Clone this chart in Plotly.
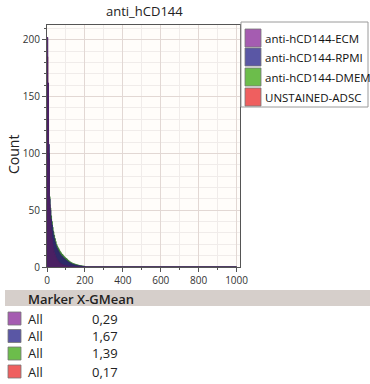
import plotly.graph_objects as go

# ---------------- data ----------------
bin_x = [0, 4, 8, 12, 16, 20, 24, 28, 32, 36, 40, 44, 48, 52, 56, 60, 64, 68, 72, 76,
         80, 84, 88, 92, 96, 100, 104, 108, 112, 116, 120, 124, 128, 132, 136, 140, 144, 148, 152, 156,
         160, 164, 168, 172, 176, 180, 184, 188, 192, 196]
bin_end = 200
axis_end = 1000

ecm = [202, 162, 95, 55, 42, 32, 25, 20, 16, 13, 11, 9, 7.5, 6.3, 5.3, 4.5, 3.8, 3.2, 2.7, 2.3,
       2, 1.7, 1.5, 1.3, 1.1, 1, 0.9, 0.8, 0.7, 0.6, 0.5, 0.5, 0.4, 0.4, 0.3, 0.3, 0.3, 0.2, 0.2, 0.2,
       0.2, 0.1, 0.1, 0.1, 0.1, 0.1, 0.1, 0.1, 0, 0]
rpmi = [150, 148, 108, 60, 50, 42, 37, 32, 28, 25, 22, 19.5, 17.5, 16, 14.5, 13.5, 12, 11, 10, 9.5,
        9, 8, 7.4, 6.8, 6.3, 5.8, 5.2, 4.7, 4.2, 3.8, 3.4, 3, 2.7, 2.5, 2.2, 2, 1.8, 1.6, 1.5, 1.3,
        1.2, 1.1, 1, 0.9, 0.8, 0.7, 0.6, 0.5, 0.5, 0.4]
dmem = [110, 125, 100, 62, 52, 45, 40, 35, 31, 28, 25, 22.5, 20, 18.5, 17, 16, 14.5, 13.5, 12.5, 11.5,
        11, 10, 9.2, 8.5, 8, 7.5, 6.8, 6.2, 5.6, 5, 4.5, 4.1, 3.7, 3.4, 3.1, 2.8, 2.6, 2.4, 2.2, 2,
        1.8, 1.6, 1.4, 1.3, 1.2, 1, 0.9, 0.8, 0.7, 0.6]
unstained = [185, 130, 72, 40, 26, 16, 10, 6, 4, 3, 2, 1.5, 1.2, 1, 0.8, 0.6, 0.5, 0.4, 0.3, 0.3,
             0.2, 0.2, 0.2, 0.1, 0.1, 0.1, 0.1, 0.1, 0, 0, 0, 0, 0, 0, 0, 0, 0, 0, 0, 0,
             0, 0, 0, 0, 0, 0, 0, 0, 0, 0]

series_names = ["anti-hCD144-ECM", "anti-hCD144-RPMI", "anti-hCD144-DMEM", "UNSTAINED-ADSC"]
series_counts = [ecm, rpmi, dmem, unstained]
legend_colors = ["#a55cb1", "#5a57a5", "#6cbd4b", "#ef5f5f"]
hist_colors = ["#4a2063", "#2e2a68", "#3a7e33", "#7a2f3a"]
gmean_labels = ["0,29", "1,67", "1,39", "0,17"]
gate_labels = ["All", "All", "All", "All"]

x_ticks = [0, 200, 400, 600, 800, 1000]
y_ticks = [0, 50, 100, 150, 200]

title_text = "anti_hCD144"
y_title = "Count"
table_header = "Marker X-GMean"

# ---------------- layout geometry (pixels) ----------------
W, H = 370, 384
L, R, T, B = 47, 240, 25, 267
FONT = "Open Sans, DejaVu Sans, sans-serif"


def xp(px):
    return (px - L) / (R - L)


def yp(py):
    return (B - py) / (B - T)


fig = go.Figure()

# draw order: unstained at the back, ECM in front
for idx in [3, 2, 1, 0]:
    xs = bin_x + [bin_end, axis_end]
    ys = series_counts[idx] + [0, 0]
    fig.add_trace(go.Scatter(
        x=xs, y=ys, mode="lines", line_shape="hv",
        line=dict(color=hist_colors[idx], width=1),
        fill="tozeroy", fillcolor=hist_colors[idx],
        name=series_names[idx], showlegend=False, hoverinfo="skip",
    ))

shapes = []
annotations = []

# title
annotations.append(dict(text=title_text, x=xp(144), y=yp(11), xref="paper", yref="paper",
                        showarrow=False, font=dict(family=FONT, size=13, color="#222"),
                        xanchor="center", yanchor="middle"))
# y title
annotations.append(dict(text=y_title, x=xp(13), y=yp(155), xref="paper", yref="paper",
                        showarrow=False, textangle=-90,
                        font=dict(family=FONT, size=14, color="#222"),
                        xanchor="center", yanchor="middle"))

# legend box
shapes.append(dict(type="rect", xref="paper", yref="paper",
                   x0=xp(241), x1=xp(368), y0=yp(107), y1=yp(22),
                   line=dict(color="#9a9a9a", width=1), fillcolor="white", layer="above"))
row_tops = [29, 48, 68, 88]
for i, name in enumerate(series_names):
    t0 = row_tops[i]
    shapes.append(dict(type="rect", xref="paper", yref="paper",
                       x0=xp(245), x1=xp(261), y0=yp(t0 + 18), y1=yp(t0),
                       line=dict(color="#777", width=0.8), fillcolor=legend_colors[i], layer="above"))
    annotations.append(dict(text=name, x=xp(262.5), y=yp(t0 + 9.5), xref="paper", yref="paper",
                            showarrow=False, xanchor="left", yanchor="middle",
                            font=dict(family=FONT, size=11.5, color="#111")))

# statistics table
shapes.append(dict(type="rect", xref="paper", yref="paper",
                   x0=xp(5), x1=xp(370), y0=yp(306), y1=yp(290),
                   line=dict(width=0), fillcolor="#d6cfcb", layer="above"))
annotations.append(dict(text=table_header, x=xp(26), y=yp(298.5), xref="paper", yref="paper",
                        showarrow=False, xanchor="left", yanchor="middle",
                        font=dict(family=FONT, size=13, color="#222", weight=600)))
table_tops = [312, 329.5, 347, 365]
for i in range(len(series_names)):
    t0 = table_tops[i]
    shapes.append(dict(type="rect", xref="paper", yref="paper",
                       x0=xp(8), x1=xp(21), y0=yp(t0 + 13), y1=yp(t0),
                       line=dict(color="#777", width=0.8), fillcolor=legend_colors[i], layer="above"))
    annotations.append(dict(text=gate_labels[i], x=xp(26), y=yp(t0 + 6.5), xref="paper", yref="paper",
                            showarrow=False, xanchor="left", yanchor="middle",
                            font=dict(family=FONT, size=13, color="#222")))
    annotations.append(dict(text=gmean_labels[i], x=xp(120), y=yp(t0 + 6.5), xref="paper", yref="paper",
                            showarrow=False, xanchor="right", yanchor="middle",
                            font=dict(family=FONT, size=13, color="#222")))

axis_common = dict(
    showline=True, linecolor="#555", linewidth=1, mirror=True,
    ticks="outside", ticklen=4, tickcolor="#555", tickwidth=1,
    gridcolor="#e2d8d4", gridwidth=1, zeroline=False,
    tickfont=dict(family=FONT, size=10, color="#333"),
)

fig.update_layout(
    width=W, height=H,
    margin=dict(l=L, r=W - R, t=T, b=H - B, pad=0),
    paper_bgcolor="white", plot_bgcolor="#fffdfa",
    showlegend=False,
    shapes=shapes, annotations=annotations,
    xaxis=dict(range=[0, 1018], tickvals=x_ticks,
               minor=dict(dtick=100, tick0=0, showgrid=True, gridcolor="#f0ecea",
                          ticks="outside", ticklen=2, tickcolor="#555"),
               **axis_common),
    yaxis=dict(range=[0, 213], tickvals=y_ticks,
               minor=dict(dtick=10, tick0=0, showgrid=True, gridcolor="#f0ecea",
                          ticks="outside", ticklen=2, tickcolor="#555"),
               **axis_common),
)

fig.write_html("out.html", config={"displayModeBar": False},
               post_script="document.body.style.margin='0';document.body.style.overflow='hidden';")
